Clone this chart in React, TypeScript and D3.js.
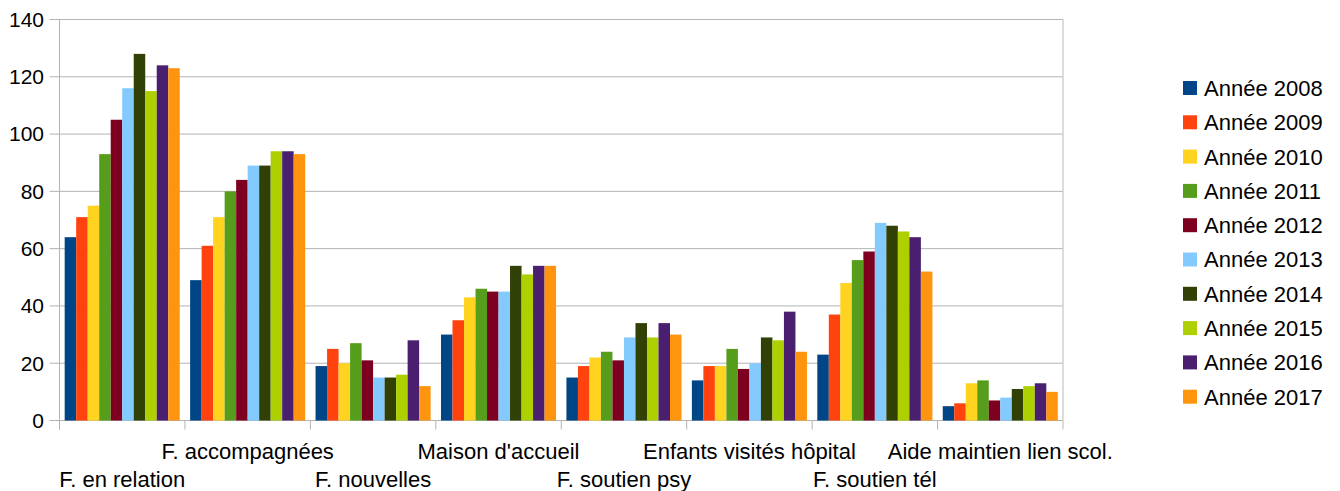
import * as d3 from 'd3'
import React from 'react'

const categories = [
  'F. en relation',
  'F. accompagnées',
  'F. nouvelles',
  "Maison d'accueil",
  'F. soutien psy',
  'Enfants visités hôpital',
  'F. soutien tél',
  'Aide maintien lien scol.',
]

const years = ['Année 2008', 'Année 2009', 'Année 2010', 'Année 2011', 'Année 2012',
  'Année 2013', 'Année 2014', 'Année 2015', 'Année 2016', 'Année 2017']

const colors = ['#004586', '#ff420e', '#ffd320', '#579d1c', '#7e0021',
  '#83caff', '#314004', '#aecf00', '#4b1f6f', '#ff950e']

// one row per year, one value per category
const values = [
  [64, 49, 19, 30, 15, 14, 23, 5],
  [71, 61, 25, 35, 19, 19, 37, 6],
  [75, 71, 20, 43, 22, 19, 48, 13],
  [93, 80, 27, 46, 24, 25, 56, 14],
  [105, 84, 21, 45, 21, 18, 59, 7],
  [116, 89, 15, 45, 29, 20, 69, 8],
  [128, 89, 15, 54, 34, 29, 68, 11],
  [115, 94, 16, 51, 29, 28, 66, 12],
  [124, 94, 28, 54, 34, 38, 64, 13],
  [123, 93, 12, 54, 30, 24, 52, 10],
]

const yTicks = [0, 20, 40, 60, 80, 100, 120, 140]

const W = 1340
const H = 491
const left = 59.5
const right = 1063
const top = 19.5
const bottom = 420.5
const font = '"Liberation Sans", Arial, sans-serif'

const App = () => {
  const x0 = d3.scaleBand().domain(categories).range([left, right]).padding(0)
  const x1 = d3.scaleBand().domain(years).range([0, x0.bandwidth()]).paddingInner(0).paddingOuter(0.45)
  const y = d3.scaleLinear().domain([0, 140]).range([bottom, top])

  return (
    <svg width={W} height={H} style={{ position: 'absolute', left: 0, top: 0, background: '#fff' }}>
      {yTicks.map((t) => (
        <g key={t}>
          <line x1={left - 10} x2={right} y1={y(t)} y2={y(t)} stroke="#b3b3b3" strokeWidth={1} />
          <text x={44} y={y(t)} dy="0.35em" textAnchor="end" fontFamily={font} fontSize={21} fill="#000">
            {t}
          </text>
        </g>
      ))}
      <line x1={left} x2={left} y1={top} y2={bottom + 9} stroke="#b3b3b3" />
      <line x1={right} x2={right} y1={top} y2={bottom + 9} stroke="#d0d0d0" strokeWidth={1.5} />
      {categories.map((c, i) => (
        <line key={c} x1={x0(c)} x2={x0(c)} y1={bottom} y2={bottom + 9} stroke="#b3b3b3" />
      ))}

      {years.map((yr, s) => (
        <g key={yr} fill={colors[s]}>
          {categories.map((c, i) => (
            <rect
              key={c}
              x={x0(c) + x1(yr)}
              y={y(values[s][i])}
              width={x1.bandwidth()}
              height={bottom - y(values[s][i])}
            />
          ))}
        </g>
      ))}

      {categories.map((c, i) => (
        <text
          key={c}
          x={x0(c) + x0.bandwidth() / 2}
          y={i % 2 === 0 ? 487 : 459}
          textAnchor="middle"
          fontFamily={font}
          fontSize={22}
          fill="#000"
        >
          {c}
        </text>
      ))}

      {years.map((yr, s) => (
        <g key={yr} transform={`translate(1183 ${81 + s * 34.3})`}>
          <rect width={14} height={14} fill={colors[s]} />
          <text x={21} y={7} dy="0.36em" fontFamily={font} fontSize={22} fill="#000">
            {yr}
          </text>
        </g>
      ))}
    </svg>
  )
}

export default App
